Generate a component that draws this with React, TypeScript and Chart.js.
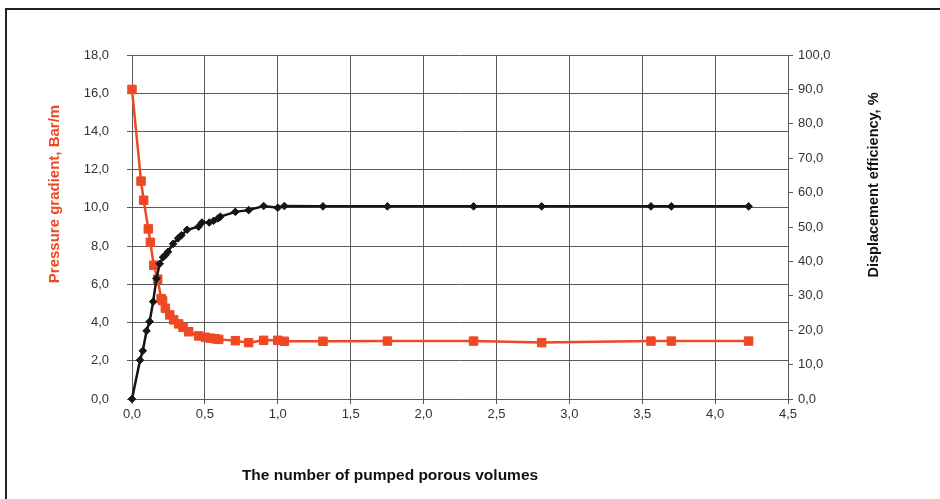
import React, { useEffect, useRef } from "react";
import { Chart, registerables } from "chart.js";

Chart.register(...registerables);

// Pumped porous volumes (x) and pressure gradient, Bar/m
const pressureVolumes = [
  0, 0.062, 0.08, 0.112, 0.126, 0.149, 0.176, 0.2, 0.21, 0.229, 0.259, 0.286,
  0.32, 0.35, 0.389, 0.457, 0.503, 0.538, 0.57, 0.595, 0.709, 0.8, 0.903, 1.0,
  1.045, 1.31, 1.752, 2.343, 2.81, 3.56, 3.7, 4.23,
];
const pressureGradient = [
  16.2, 11.4, 10.4, 8.9, 8.2, 7.0, 6.27, 5.25, 5.15, 4.75, 4.4, 4.14, 3.93,
  3.75, 3.52, 3.3, 3.23, 3.18, 3.15, 3.12, 3.05, 2.95, 3.07, 3.07, 3.02, 3.02,
  3.03, 3.03, 2.95, 3.03, 3.03, 3.03,
];

// Pumped porous volumes (x) and displacement efficiency, %
const efficiencyVolumes = [
  0, 0.055, 0.074, 0.1, 0.121, 0.145, 0.168, 0.19, 0.213, 0.228, 0.247, 0.282,
  0.316, 0.339, 0.378, 0.457, 0.48, 0.53, 0.56, 0.59, 0.606, 0.709, 0.8, 0.903,
  1.0, 1.045, 1.31, 1.752, 2.343, 2.81, 3.56, 3.7, 4.23,
];
const displacementEfficiency = [
  0, 11.3, 14.0, 19.8, 22.5, 28.3, 35.0, 39.3, 41.2, 41.8, 42.8, 45.1, 46.7,
  47.6, 49.2, 50.1, 51.3, 51.3, 51.8, 52.5, 53.0, 54.4, 54.9, 56.1, 55.6, 56.1,
  56.0, 56.0, 56.0, 56.0, 56.0, 56.0, 56.0,
];

const xTitle = "The number of pumped porous volumes";
const leftTitle = "Pressure gradient, Bar/m";
const rightTitle = "Displacement efficiency, %";

const RED = "#EF4824";
const BLACK = "#151515";
const GRID = "#5a5a5a";
const FONT = "'Liberation Sans', Arial, sans-serif";

const commaFmt = (v: number | string) =>
  Number(v).toFixed(1).replace(".", ",");

const toPoints = (xs: number[], ys: number[]) =>
  xs.map((x, i) => ({ x, y: ys[i] }));

const decorPlugin = {
  id: "decor",
  afterDraw(chart: any) {
    const { ctx, chartArea } = chart;
    ctx.save();
    // outer frame (top and left edges visible)
    ctx.strokeStyle = "#222";
    ctx.lineWidth = 2;
    ctx.beginPath();
    ctx.moveTo(6, 600);
    ctx.lineTo(6, 9);
    ctx.lineTo(1000, 9);
    ctx.stroke();

    ctx.textAlign = "center";
    ctx.textBaseline = "middle";

    // left axis title
    ctx.fillStyle = RED;
    ctx.font = `bold 15px ${FONT}`;
    ctx.save();
    ctx.translate(chartArea.left - 77, 194);
    ctx.rotate(-Math.PI / 2);
    ctx.fillText(leftTitle, 0, 0);
    ctx.restore();

    // right axis title
    ctx.fillStyle = "#111";
    ctx.font = `bold 14.5px ${FONT}`;
    ctx.save();
    ctx.translate(chartArea.right + 86, 185);
    ctx.rotate(-Math.PI / 2);
    ctx.fillText(rightTitle, 0, 0);
    ctx.restore();

    // x axis title
    ctx.font = `bold 15.5px ${FONT}`;
    ctx.fillText(xTitle, 390, 476);
    ctx.restore();
  },
};

export default function App() {
  const canvasRef = useRef<HTMLCanvasElement | null>(null);

  useEffect(() => {
    if (!canvasRef.current) return;
    const chart = new Chart(canvasRef.current, {
      type: "line",
      data: {
        datasets: [
          {
            label: leftTitle,
            data: toPoints(pressureVolumes, pressureGradient),
            yAxisID: "y",
            borderColor: RED,
            backgroundColor: RED,
            borderWidth: 2.5,
            pointStyle: "rect",
            pointRadius: 6,
            pointBorderWidth: 1,
            tension: 0,
            clip: false,
            order: 2,
          },
          {
            label: rightTitle,
            data: toPoints(efficiencyVolumes, displacementEfficiency),
            yAxisID: "y1",
            borderColor: BLACK,
            backgroundColor: BLACK,
            borderWidth: 2.5,
            pointStyle: "rectRot",
            pointRadius: 3.8,
            pointBorderWidth: 1,
            tension: 0,
            clip: false,
            order: 1,
          },
        ],
      },
      options: {
        responsive: false,
        animation: false,
        devicePixelRatio: 1,
        events: [],
        layout: { padding: { top: 55, left: 0, right: 0, bottom: 0 } },
        plugins: {
          legend: { display: false },
          tooltip: { enabled: false },
        },
        scales: {
          x: {
            type: "linear",
            min: 0,
            max: 4.5,
            afterFit: (s: any) => {
              s.height = 100;
            },
            ticks: {
              stepSize: 0.5,
              callback: commaFmt,
              color: "#333",
              font: { family: FONT, size: 13 },
              padding: 3,
              maxRotation: 0,
            },
            grid: { color: GRID, lineWidth: 1, tickLength: 5 },
            border: { color: GRID, width: 1 },
          },
          y: {
            type: "linear",
            position: "left",
            min: 0,
            max: 18,
            afterFit: (s: any) => {
              s.width = 132;
            },
            ticks: {
              stepSize: 2,
              callback: commaFmt,
              color: "#333",
              font: { family: FONT, size: 13 },
              padding: 18,
            },
            grid: { color: GRID, lineWidth: 1, tickLength: 5 },
            border: { color: GRID, width: 1 },
          },
          y1: {
            type: "linear",
            position: "right",
            min: 0,
            max: 100,
            afterFit: (s: any) => {
              s.width = 152;
            },
            ticks: {
              stepSize: 10,
              callback: commaFmt,
              color: "#333",
              font: { family: FONT, size: 13 },
              padding: 5,
            },
            grid: { drawOnChartArea: false, color: GRID, tickLength: 5 },
            border: { color: GRID, width: 1 },
          },
        },
      },
      plugins: [decorPlugin],
    });
    return () => chart.destroy();
  }, []);

  return (
    <div
      style={{
        position: "absolute",
        left: 0,
        top: 0,
        width: 940,
        height: 499,
        background: "#fff",
      }}
    >
      <canvas ref={canvasRef} width={940} height={499} />
    </div>
  );
}
